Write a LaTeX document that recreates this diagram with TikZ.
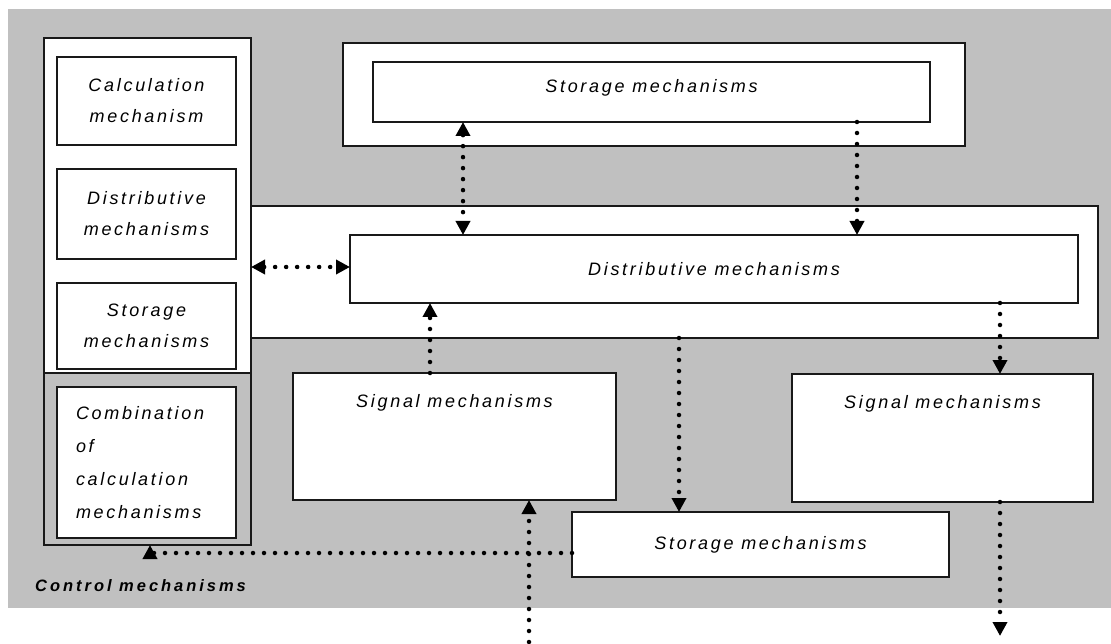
\documentclass[tikz,border=0pt]{standalone}
\usepackage{fontspec}
\usetikzlibrary{arrows.meta}
\newfontfamily\labfont[LetterSpace=15]{Liberation Sans}
\newfontfamily\ctrlfont[LetterSpace=18]{Liberation Sans}
\definecolor{bg}{RGB}{192,192,192}
\definecolor{ln}{RGB}{25,25,25}
\begin{document}
\begin{tikzpicture}[x=1pt,y=-1pt,
  box/.style={draw=ln, line width=1.3pt, fill=white, inner sep=0pt, outer sep=0pt},
  lbl/.style={font=\labfont\itshape\fontsize{18}{31}\selectfont, align=center, text=black},
  tipA/.tip={Triangle[length=14pt,width=14pt]},
  dots/.style={line width=4.5pt, line cap=round, dash pattern=on 0pt off 11pt, -tipA},
  dotsboth/.style={line width=4.5pt, line cap=round, dash pattern=on 0pt off 11pt, tipA-tipA}]
\useasboundingbox (0,0) rectangle (1111,644);
\fill[bg] (8,9) rectangle (1111,608);

% top storage
\node[box, minimum width=622pt, minimum height=103pt] (stoOuter) at (654,94.5) {};
\node[box, lbl, minimum width=557pt, minimum height=60pt, text depth=12pt] (stoTop) at (651.5,92) {Storage mechanisms};

% band
\node[box, minimum width=847pt, minimum height=132pt] (band) at (674.5,272) {};

% control box
\node[draw=ln, line width=1.3pt, inner sep=0pt, outer sep=0pt, minimum width=207pt, minimum height=507pt] (ctrl) at (147.5,291.5) {};
\fill[white] (ctrl.north west) rectangle (ctrl.east |- 0,373);
\draw[ln, line width=1.3pt] (ctrl.north west) rectangle (ctrl.south east);
\draw[ln, line width=1.3pt] (ctrl.west |- 0,373) -- (ctrl.east |- 0,373);

\node[box, lbl, minimum width=179pt, minimum height=88pt] (calc) at (146.5,101) {Calculation\\mechanism};
\node[box, lbl, minimum width=179pt, minimum height=90pt] (distL) at (146.5,214) {Distributive\\mechanisms};
\node[box, lbl, minimum width=179pt, minimum height=86pt] (stoL) at (146.5,326) {Storage\\mechanisms};
\node[box, lbl, font=\labfont\itshape\fontsize{18}{33}\selectfont, align=left, text width=141pt, inner xsep=19pt, minimum width=179pt, minimum height=151pt] (comb) at (146.5,462.5) {Combination\\of\\calculation\\mechanisms};

% main nodes
\node[box, lbl, minimum width=728pt, minimum height=68pt] (dist) at (714,269) {Distributive mechanisms};
\node[box, minimum width=323pt, minimum height=127pt,
  label={[lbl, inner sep=0pt, anchor=north, yshift=-21pt]north:Signal mechanisms}] (sigL) at (454.5,436.5) {};
\node[box, minimum width=301pt, minimum height=128pt,
  label={[lbl, inner sep=0pt, anchor=north, yshift=-21pt]north:Signal mechanisms}] (sigR) at (942.5,438) {};
\node[box, lbl, minimum width=377pt, minimum height=65pt] (stoB) at (760.5,544.5) {Storage mechanisms};

\node[font=\ctrlfont\bfseries\itshape\fontsize{16.5}{19}\selectfont, anchor=west, inner sep=0pt] (ctrlLbl) at (35,586) {Control mechanisms};

% connectors
\draw[dotsboth] (stoTop.south -| 463,0) -- (dist.north -| 463,0);
\draw[dots] (stoTop.south -| 857,0) -- (dist.north -| 857,0);
\draw[dotsboth] (ctrl.east |- 0,267) -- (dist.west |- 0,267);
\draw[dots] (sigL.north -| 430,0) -- (dist.south -| 430,0);
\draw[dots] (band.south -| 679,0) -- (stoB.north -| 679,0);
\draw[dots] (dist.south -| 1000,0) -- (sigR.north -| 1000,0);
\draw[dots] (stoB.west |- 0,553) -| (ctrl.south -| 150,0);
\coordinate (inB) at (529,642);
\draw[dots] (inB) -- (sigL.south -| 529,0);
\coordinate (outB) at (1000,636);
\draw[dots] (sigR.south -| 1000,0) -- (outB);
\end{tikzpicture}
\end{document}
